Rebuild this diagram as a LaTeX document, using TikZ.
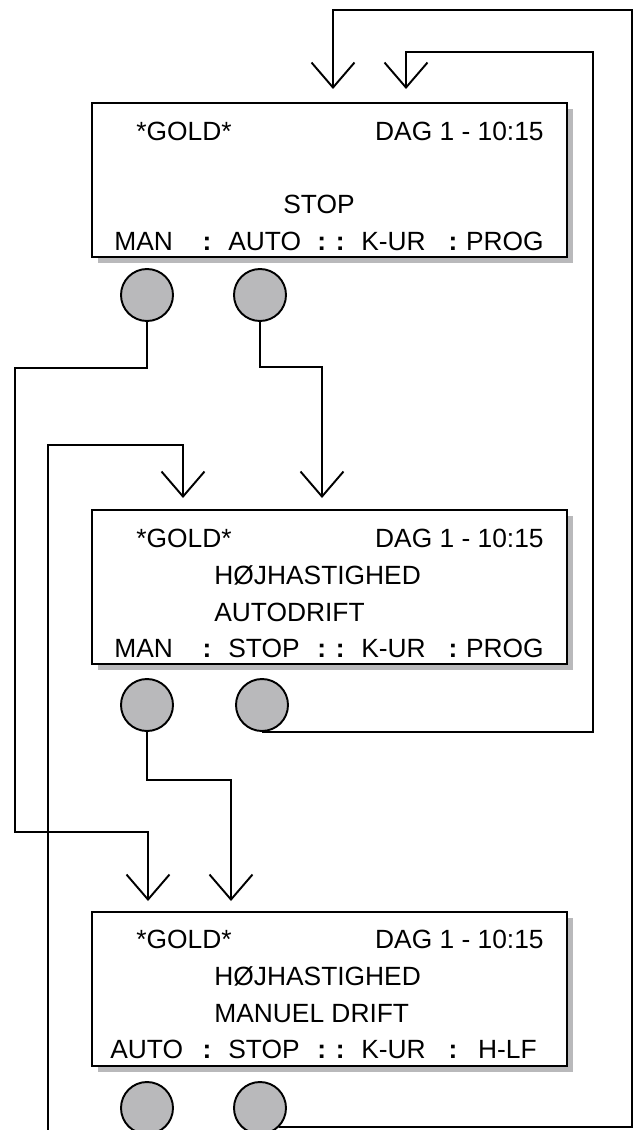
\documentclass[tikz,border=0pt]{standalone}
\usepackage{fontspec}
\setmainfont{Liberation Sans}
\usetikzlibrary{arrows.meta,shadows}
\definecolor{keygray}{RGB}{185,185,187}

\begin{document}
\begin{tikzpicture}[
    x=0.2mm, y=-0.2mm,
    screen/.style={draw, line width=1.3pt, fill=white,
        minimum width=95mm, minimum height=30.8mm,
        drop shadow={shadow xshift=1.2mm, shadow yshift=-1.2mm, fill=keygray, opacity=1}},
    softkey/.style={circle, draw, line width=1.1pt, fill=keygray, minimum size=10.4mm},
    link/.style={line width=1.1pt, -{Straight Barb[length=5mm, width=8.6mm]}},
    every node/.style={font=\fontsize{15}{18}\selectfont, inner sep=0}
]
\useasboundingbox (0,0) rectangle (635,1130);
\clip (0,0) rectangle (635,1130);

% screen 1: stop
\node[screen] (d1) at (329.5,180) {};
\node[anchor=base west] (d1g) at (136,140) {*GOLD*};
\node[anchor=base east] (d1t) at (544,140) {DAG 1 - 10:15};
\node[anchor=base] (d1s) at (319,213) {STOP};
\node[anchor=base west] (d1k1) at (114,250) {MAN};
\node[anchor=base] (d1c1) at (207,250) {\textbf{:}};
\node[anchor=base west] (d1k2) at (228,250) {AUTO};
\node[anchor=base] (d1c2) at (331,250) {\textbf{: :}};
\node[anchor=base west] (d1k3) at (361,250) {K-UR};
\node[anchor=base] (d1c3) at (453,250) {\textbf{:}};
\node[anchor=base east] (d1k4) at (544,250) {PROG};

% screen 2: autodrift
\node[screen] (d2) at (329.5,587) {};
\node[anchor=base west] (d2g) at (136,547) {*GOLD*};
\node[anchor=base east] (d2t) at (544,547) {DAG 1 - 10:15};
\node[anchor=base west] (d2l1) at (214,584) {HØJHASTIGHED};
\node[anchor=base west] (d2l2) at (214,621) {AUTODRIFT};
\node[anchor=base west] (d2k1) at (114,657) {MAN};
\node[anchor=base] (d2c1) at (207,657) {\textbf{:}};
\node[anchor=base west] (d2k2) at (228,657) {STOP};
\node[anchor=base] (d2c2) at (331,657) {\textbf{: :}};
\node[anchor=base west] (d2k3) at (361,657) {K-UR};
\node[anchor=base] (d2c3) at (453,657) {\textbf{:}};
\node[anchor=base east] (d2k4) at (544,657) {PROG};

% screen 3: manuel drift
\node[screen] (d3) at (329.5,989) {};
\node[anchor=base west] (d3g) at (136,948) {*GOLD*};
\node[anchor=base east] (d3t) at (544,948) {DAG 1 - 10:15};
\node[anchor=base west] (d3l1) at (214,985) {HØJHASTIGHED};
\node[anchor=base west] (d3l2) at (214,1022) {MANUEL DRIFT};
\node[anchor=base west] (d3k1) at (110,1058) {AUTO};
\node[anchor=base] (d3c1) at (207,1058) {\textbf{:}};
\node[anchor=base west] (d3k2) at (228,1058) {STOP};
\node[anchor=base] (d3c2) at (331,1058) {\textbf{: :}};
\node[anchor=base west] (d3k3) at (361,1058) {K-UR};
\node[anchor=base] (d3c3) at (453,1058) {\textbf{:}};
\node[anchor=base east] (d3k4) at (537,1058) {H-LF};

% soft keys
\node[softkey] (k1a) at (147,295) {};
\node[softkey] (k1b) at (260,295) {};
\node[softkey] (k2a) at (147,705) {};
\node[softkey] (k2b) at (262,705) {};
\node[softkey] (k3a) at (147,1108) {};
\node[softkey] (k3b) at (260,1108) {};

% inputs above the screens
\coordinate (in1a) at (333,89);
\coordinate (in1b) at (406,89);
\coordinate (in2a) at (183,498);
\coordinate (in2b) at (322,498);
\coordinate (in3a) at (148,901);
\coordinate (in3b) at (231,901);

\draw[link] (k1a.south) |- (15,368) -- (15,832) -| (in3a);
\draw[link] (k1b.south) |- (322,367) -- (in2b);
\draw[link] (k2a.south) |- (231,780) -- (in3b);
\draw[link] (k2b.south) -| (593,52) -| (in1b);
\draw[link] (k3a.south) -- ++(0,40) -| (48,445) -| (in2a);
\draw[link] (k3b.south east) -| (632,10) -| (in1a);
\end{tikzpicture}
\end{document}
